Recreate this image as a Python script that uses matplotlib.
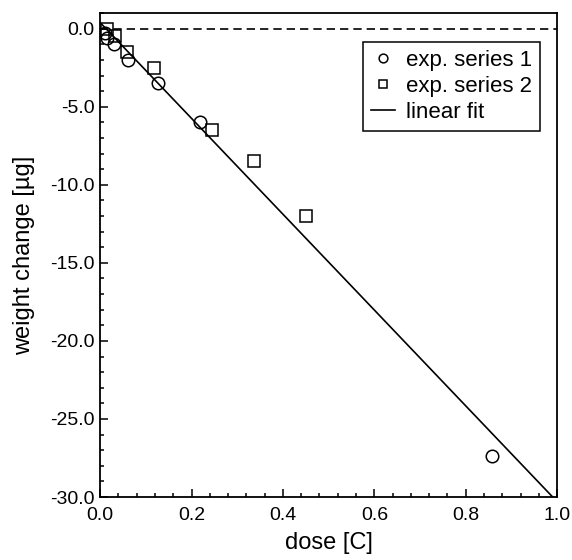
import matplotlib
matplotlib.use("Agg")
import matplotlib.pyplot as plt
from matplotlib.ticker import MultipleLocator, FormatStrFormatter
import numpy as np

plt.rcParams["font.family"] = ["Liberation Sans", "DejaVu Sans"]

# exp. series 1 (circles)
dose_1   = [0.010, 0.015, 0.030, 0.060, 0.127, 0.218, 0.857]
weight_1 = [-0.30, -0.60, -1.00, -2.00, -3.50, -6.00, -27.40]

# exp. series 2 (squares)
dose_2   = [0.015, 0.032, 0.059, 0.118, 0.245, 0.337, 0.451]
weight_2 = [0.00, -0.45, -1.50, -2.50, -6.50, -8.50, -12.00]

# linear fit parameters
FIT_INTERCEPT = 0.4
FIT_SLOPE = -30.7

fig = plt.figure(figsize=(5.72, 5.60), dpi=100)
ax = fig.add_axes([0.175, 0.1125, 0.799, 0.864])

x_fit = np.array([0.0, 1.0])
ax.plot(x_fit, FIT_INTERCEPT + FIT_SLOPE * x_fit, color="black", linewidth=1.2, label="linear fit")
ax.axhline(0.0, color="black", linestyle=(0, (5, 3)), linewidth=1.2)

ax.plot(dose_1, weight_1, linestyle="none", marker="o", markersize=9,
        markerfacecolor="none", markeredgecolor="black", markeredgewidth=1.1,
        label="exp. series 1")
ax.plot(dose_2, weight_2, linestyle="none", marker="s", markersize=8.5,
        markerfacecolor="none", markeredgecolor="black", markeredgewidth=1.1,
        label="exp. series 2")

ax.set_xlim(0.0, 1.0)
ax.set_ylim(-30.0, 1.0)
ax.xaxis.set_major_locator(MultipleLocator(0.2))
ax.xaxis.set_minor_locator(MultipleLocator(0.04))
ax.yaxis.set_major_locator(MultipleLocator(5.0))
ax.yaxis.set_minor_locator(MultipleLocator(1.0))
ax.xaxis.set_major_formatter(FormatStrFormatter("%.1f"))
ax.yaxis.set_major_formatter(FormatStrFormatter("%.1f"))
ax.tick_params(which="both", direction="in", top=False, right=False, labelsize=14, width=1.1)
ax.tick_params(which="major", length=6)
ax.tick_params(which="minor", length=3)
ax.tick_params(axis="x", which="major", pad=7)
ax.tick_params(axis="y", which="major", pad=4)
for s in ax.spines.values():
    s.set_linewidth(1.3)

ax.set_xlabel("dose [C]", fontsize=17, labelpad=6)
ax.set_ylabel("weight change [µg]", fontsize=17, labelpad=11)

handles, labels = ax.get_legend_handles_labels()
order = [1, 2, 0]
leg = ax.legend([handles[i] for i in order], [labels[i] for i in order],
                loc="upper right", bbox_to_anchor=(0.963, 0.94), borderaxespad=0,
                fontsize=16, frameon=True, fancybox=False, edgecolor="black",
                framealpha=1, borderpad=0.35, labelspacing=0.22, handlelength=1.1,
                handletextpad=0.5, markerscale=0.7)
leg.get_frame().set_linewidth(1.1)

fig.savefig("out.png", dpi=100)
